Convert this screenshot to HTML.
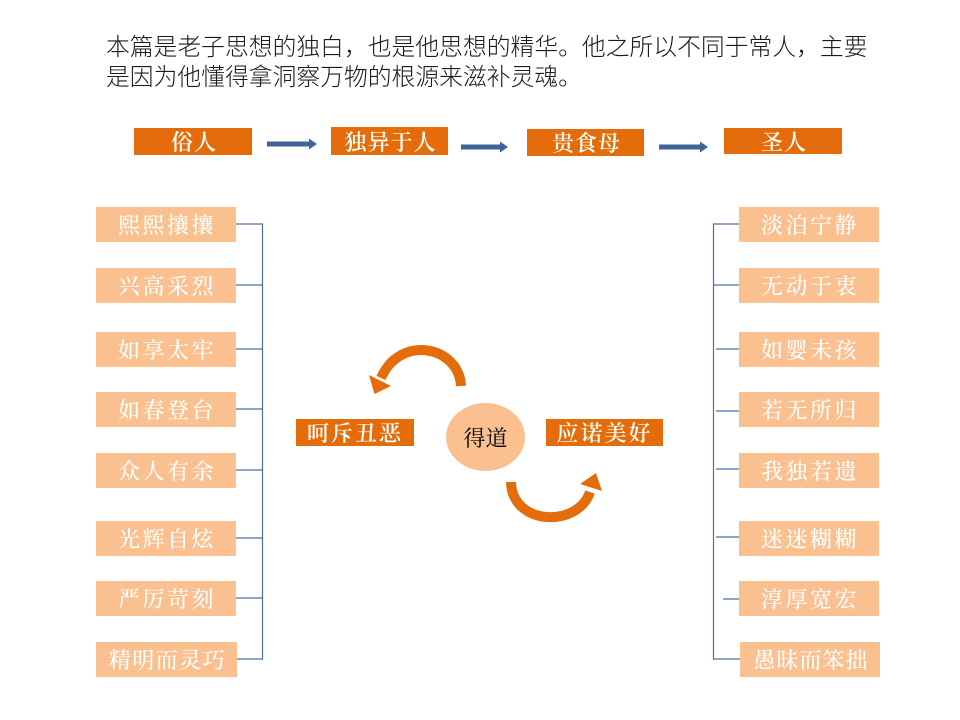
<!DOCTYPE html>
<html>
<head>
<meta charset="utf-8">
<style>
  html,body{margin:0;padding:0;background:#fff;}
  body{width:960px;height:720px;position:relative;overflow:hidden;}
  .para{position:absolute;left:106px;top:33px;width:800px;font-family:"Liberation Sans","Noto Sans CJK SC",sans-serif;font-size:23.8px;line-height:30px;color:#1a1a1a;font-weight:300;white-space:nowrap;}
  .box{position:absolute;display:flex;align-items:center;justify-content:center;color:#fff;font-family:"Liberation Serif","Noto Serif CJK SC",serif;white-space:nowrap;}
  .dk{background:#E46C0A;font-size:22px;font-weight:600;letter-spacing:1px;}
  .lt{background:#FAC090;font-size:22px;letter-spacing:2.5px;width:140px;height:35px;font-weight:500;}
  .lt span,.dk span{margin-right:-2px;}
  .ctr{background:#E46C0A;font-size:22px;letter-spacing:2px;font-weight:600;}
  svg{position:absolute;left:0;top:0;}
</style>
</head>
<body>
<div class="para">本篇是老子思想的独白，也是他思想的精华。他之所以不同于常人，主要<br>是因为他懂得拿洞察万物的根源来滋补灵魂。</div>

<svg width="960" height="720" viewBox="0 0 960 720">
  <!-- top blue arrows -->
  <g fill="#3C6496">
    <rect x="267" y="141.5" width="43" height="5"/>
    <polygon points="309,138.5 317,144 309,149.5"/>
    <rect x="461" y="144.5" width="40" height="5"/>
    <polygon points="500,141.5 508,147 500,152.5"/>
    <rect x="659" y="144.5" width="42" height="5"/>
    <polygon points="700,141.5 708,147 700,152.5"/>
  </g>
  <!-- left connectors -->
  <g stroke="#4A6EA8" stroke-width="1.2" fill="none">
    <line x1="262.5" y1="224" x2="262.5" y2="659.5"/>
    <line x1="236" y1="224" x2="263" y2="224"/>
    <line x1="236" y1="285" x2="263" y2="285"/>
    <line x1="236" y1="349" x2="263" y2="349"/>
    <line x1="236" y1="409" x2="263" y2="409"/>
    <line x1="236" y1="470" x2="263" y2="470"/>
    <line x1="236" y1="538" x2="263" y2="538"/>
    <line x1="236" y1="598" x2="263" y2="598"/>
    <line x1="236" y1="659" x2="263" y2="659"/>
  </g>
  <!-- right connectors -->
  <g stroke="#4A6EA8" stroke-width="1.2" fill="none">
    <line x1="713.5" y1="224" x2="713.5" y2="659.5"/>
    <line x1="713" y1="224" x2="739" y2="224"/>
    <line x1="713" y1="285" x2="739" y2="285"/>
    <line x1="716" y1="349" x2="739" y2="349"/>
    <line x1="716" y1="411" x2="739" y2="411"/>
    <line x1="716" y1="469" x2="740" y2="469"/>
    <line x1="716" y1="537" x2="739" y2="537"/>
    <line x1="723" y1="599" x2="745" y2="599"/>
    <line x1="713" y1="659" x2="740" y2="659"/>
  </g>
  <!-- circle -->
  <ellipse cx="485.5" cy="437" rx="39.5" ry="34" fill="#FAC090"/>
  <!-- curved arrows -->
  <path d="M461,386 C459,346 400,334 381,378" stroke="#E46C0A" stroke-width="10" fill="none"/>
  <polygon points="369,375 391,386 374.5,394" fill="#E46C0A"/>
  <path d="M511,482 C512,526 578,528 590,492" stroke="#E46C0A" stroke-width="10" fill="none"/>
  <polygon points="580,484 602,491 596,473" fill="#E46C0A"/>
</svg>

<!-- top banner -->
<div class="box dk" style="left:134px;top:128px;width:118px;height:27px;"><span>俗人</span></div>
<div class="box dk" style="left:331px;top:127px;width:117px;height:28px;"><span>独异于人</span></div>
<div class="box dk" style="left:527px;top:129px;width:117px;height:27px;"><span>贵食母</span></div>
<div class="box dk" style="left:724px;top:128px;width:118px;height:26px;"><span>圣人</span></div>

<!-- left boxes -->
<div class="box lt" style="left:96px;top:207px;"><span>熙熙攘攘</span></div>
<div class="box lt" style="left:96px;top:268px;"><span>兴高采烈</span></div>
<div class="box lt" style="left:96px;top:332px;"><span>如享太牢</span></div>
<div class="box lt" style="left:96px;top:392px;"><span>如春登台</span></div>
<div class="box lt" style="left:96px;top:453px;"><span>众人有余</span></div>
<div class="box lt" style="left:96px;top:521px;"><span>光辉自炫</span></div>
<div class="box lt" style="left:96px;top:581px;"><span>严厉苛刻</span></div>
<div class="box lt" style="left:96px;top:642px;width:141px;letter-spacing:1.5px;"><span>精明而灵巧</span></div>

<!-- right boxes -->
<div class="box lt" style="left:739px;top:207px;"><span>淡泊宁静</span></div>
<div class="box lt" style="left:739px;top:268px;"><span>无动于衷</span></div>
<div class="box lt" style="left:739px;top:332px;"><span>如婴未孩</span></div>
<div class="box lt" style="left:739px;top:392px;"><span>若无所归</span></div>
<div class="box lt" style="left:739px;top:453px;"><span>我独若遗</span></div>
<div class="box lt" style="left:739px;top:521px;"><span>迷迷糊糊</span></div>
<div class="box lt" style="left:739px;top:581px;"><span>淳厚宽宏</span></div>
<div class="box lt" style="left:740px;top:642px;width:140px;letter-spacing:1px;"><span>愚昧而笨拙</span></div>

<!-- center -->
<div class="box ctr" style="left:296px;top:419px;width:118px;height:27px;"><span>呵斥丑恶</span></div>
<div class="box ctr" style="left:546px;top:419px;width:117px;height:27px;"><span>应诺美好</span></div>
<div class="box" style="left:446px;top:420px;width:79px;height:34px;color:#000;font-size:22px;font-family:'Liberation Serif','Noto Serif CJK SC',serif;">得道</div>
</body>
</html>
